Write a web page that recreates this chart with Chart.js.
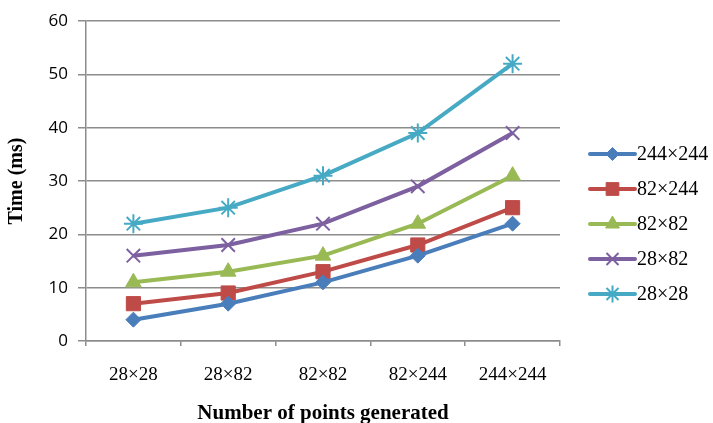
<!DOCTYPE html>
<html>
<head>
<meta charset="utf-8">
<script src="https://cdn.jsdelivr.net/npm/chart.js@4/dist/chart.umd.min.js"></script>
<style>
  html, body { margin: 0; padding: 0; background: #fff; }
  #wrap { width: 713px; height: 423px; position: relative; }
</style>
</head>
<body>
<div id="wrap"><canvas id="c" width="713" height="423"></canvas></div>
<script>
// Grid sizes along the x axis
const categories = ['28×28', '28×82', '82×82', '82×244', '244×244'];

// Series names (legend order, top to bottom)
const seriesNames = ['244×244', '82×244', '82×82', '28×82', '28×28'];

// Execution time in ms for each series
const s244x244 = [4, 7, 11, 16, 22];
const s82x244  = [7, 9, 13, 18, 25];
const s82x82   = [11, 13, 16, 22, 31];
const s28x82   = [16, 18, 22, 29, 39];
const s28x28   = [22, 25, 31, 39, 52];

const yTicks = [0, 10, 20, 30, 40, 50, 60];

const seriesValues = [s244x244, s82x244, s82x82, s28x82, s28x28];
const colors = ['#4A7EBB', '#BE4B48', '#98B954', '#7D60A0', '#46AAC5'];
const markers = [
  { style: 'rectRot',  radius: 7.5, border: 1 },
  { style: 'rect',     radius: 10,  border: 1 },
  { style: 'triangle', radius: 9,   border: 1 },
  { style: 'crossRot', radius: 9.5, border: 2 },
  { style: 'star',     radius: 9.5, border: 2 }
];

const datasets = seriesNames.map((name, i) => ({
  label: name,
  data: seriesValues[i],
  borderColor: colors[i],
  backgroundColor: colors[i],
  borderWidth: 4,
  tension: 0,
  pointStyle: markers[i].style,
  pointRadius: markers[i].radius,
  pointHoverRadius: markers[i].radius,
  pointBorderWidth: markers[i].border,
  pointBorderColor: colors[i],
  pointBackgroundColor: colors[i]
}));

// Legend drawn at the right: line sample with marker, then the series name
const sideLegend = {
  id: 'sideLegend',
  afterDraw(chart) {
    const ctx = chart.ctx;
    const x0 = 590, x1 = 635, top = 154, step = 35;
    ctx.save();
    seriesNames.forEach((name, i) => {
      const y = top + i * step;
      ctx.strokeStyle = colors[i];
      ctx.lineWidth = 4;
      ctx.lineCap = 'round';
      ctx.beginPath();
      ctx.moveTo(x0, y);
      ctx.lineTo(x1, y);
      ctx.stroke();
      ctx.fillStyle = colors[i];
      ctx.strokeStyle = colors[i];
      ctx.lineWidth = markers[i].border;
      ctx.lineCap = 'butt';
      Chart.helpers.drawPoint(ctx, {
        pointStyle: markers[i].style,
        radius: markers[i].radius - 1,
        rotation: 0,
        borderWidth: markers[i].border
      }, (x0 + x1) / 2, y);
      ctx.fillStyle = '#000';
      ctx.font = '20px "Liberation Serif", "Times New Roman", serif';
      ctx.textAlign = 'left';
      ctx.textBaseline = 'middle';
      ctx.fillText(name, 637, y + 1);
    });
    ctx.restore();
  }
};

new Chart(document.getElementById('c'), {
  type: 'line',
  data: { labels: categories, datasets },
  options: {
    responsive: false,
    animation: false,
    events: [],
    layout: { padding: { left: 0, top: 21, right: 153, bottom: 0 } },
    plugins: {
      legend: { display: false },
      tooltip: { enabled: false }
    },
    scales: {
      x: {
        type: 'category',
        offset: true,
        afterFit(scale) { scale.height = 82; },
        grid: {
          offset: true,
          drawOnChartArea: false,
          drawTicks: true,
          tickLength: 5,
          color: '#8C8C8C',
          lineWidth: 1.5
        },
        border: { display: true, color: '#8C8C8C', width: 1.5 },
        ticks: {
          color: '#000',
          padding: 18,
          maxRotation: 0,
          font: { family: '"Liberation Serif", "Times New Roman", serif', size: 19 }
        },
        title: {
          display: true,
          text: 'Number of points generated',
          color: '#000',
          padding: { top: 0, bottom: -3 },
          font: { family: '"Liberation Serif", "Times New Roman", serif', size: 21, weight: 'bold' }
        }
      },
      y: {
        min: 0,
        max: 60,
        afterFit(scale) { scale.width = 86; },
        afterBuildTicks(scale) { scale.ticks = yTicks.map(v => ({ value: v })); },
        grid: {
          drawTicks: true,
          tickLength: 8,
          color: '#8C8C8C',
          lineWidth: 1.5
        },
        border: { display: true, color: '#8C8C8C', width: 1.5 },
        ticks: {
          color: '#000',
          padding: 10,
          font: { family: '"Open Sans", sans-serif', size: 17 }
        },
        title: {
          display: true,
          text: 'Time (ms)',
          color: '#000',
          padding: { top: 5, bottom: 0 },
          font: { family: '"Liberation Serif", "Times New Roman", serif', size: 20, weight: 'bold' }
        }
      }
    }
  },
  plugins: [sideLegend]
});
</script>
</body>
</html>
